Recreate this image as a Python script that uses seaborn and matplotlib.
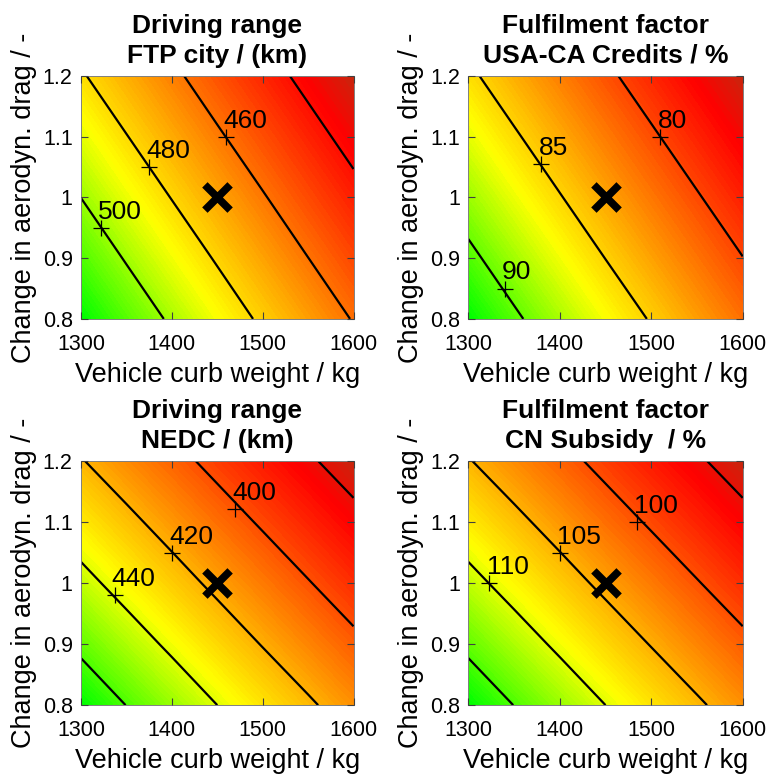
import matplotlib
matplotlib.use("Agg")
import matplotlib.pyplot as plt
from matplotlib.colors import LinearSegmentedColormap
import seaborn as sns
import numpy as np

# grid of the parameter study
curb_weight = [1300, 1350, 1400, 1450, 1500, 1550, 1600]   # kg
drag_change = [0.8, 0.9, 1.0, 1.1, 1.2]                    # -

# values, rows = drag_change, cols = curb_weight
range_ftp = [
    [520.0, 508.8, 498.1, 487.8, 477.9, 468.5, 459.3],
    [509.8, 499.0, 488.7, 478.8, 469.2, 460.1, 451.3],
    [499.9, 489.5, 479.6, 470.0, 460.9, 452.0, 443.5],
    [490.4, 480.4, 470.8, 461.6, 452.8, 444.2, 436.0],
    [481.2, 471.6, 462.4, 453.5, 444.9, 436.7, 428.8],
]
credits_usa_ca = [
    [92.42, 90.39, 88.46, 86.60, 84.83, 83.12, 81.48],
    [90.56, 88.62, 86.76, 84.97, 83.26, 81.62, 80.04],
    [88.78, 86.91, 85.12, 83.40, 81.75, 80.17, 78.64],
    [87.06, 85.27, 83.55, 81.89, 80.30, 78.77, 77.29],
    [85.42, 83.69, 82.03, 80.43, 78.90, 77.42, 75.99],
]
range_nedc = [
    [470.4, 459.8, 449.7, 440.0, 430.7, 421.9, 413.3],
    [456.9, 446.9, 437.4, 428.2, 419.4, 411.0, 402.9],
    [444.2, 434.8, 425.7, 417.0, 408.7, 400.7, 393.0],
    [432.2, 423.3, 414.7, 406.4, 398.5, 390.9, 383.6],
    [420.8, 412.3, 404.2, 396.3, 388.8, 381.6, 374.6],
]
subsidy_cn = [
    [117.60, 114.95, 112.42, 110.00, 107.68, 105.47, 103.33],
    [114.23, 111.73, 109.35, 107.05, 104.86, 102.75, 100.73],
    [111.05, 108.70, 106.43, 104.25, 102.18, 100.18, 98.25],
    [108.05, 105.83, 103.68, 101.60, 99.63, 97.73, 95.90],
    [105.20, 103.08, 101.05, 99.08, 97.20, 95.40, 93.65],
]

# contour levels drawn in each panel
levels_ftp = [440, 460, 480, 500]
levels_usa_ca = [80, 85, 90]
levels_nedc = [380, 400, 420, 440, 460]
levels_cn = [95, 100, 105, 110, 115]

# labelled contours
label_text_ftp = ["500", "480", "460"]
label_text_usa_ca = ["90", "85", "80"]
label_text_nedc = ["440", "420", "400"]
label_text_cn = ["110", "105", "100"]

# reference vehicle
ref_weight = [1450]
ref_drag = [1.0]

sns.set_style("ticks")
plt.rcParams['font.family'] = ['Liberation Sans', 'DejaVu Sans']
plt.rcParams.update({"text.color": "k", "axes.labelcolor": "k",
                     "xtick.color": "k", "ytick.color": "k"})

cmap = LinearSegmentedColormap.from_list(
    "gyr", [(0.0, (0.78, 0.15, 0.05)), (0.1, (1.0, 0.0, 0.0)),
            (0.645, (1.0, 1.0, 0.0)), (1.0, (0.0, 1.0, 0.0))])

panels = [
    dict(z=range_ftp, levels=levels_ftp, texts=label_text_ftp,
         lx=[1322, 1375, 1460], ly=[0.95, 1.05, 1.1],
         title="Driving range\nFTP city / (km)",
         rect=[0.1056, 0.588, 0.3553, 0.314]),
    dict(z=credits_usa_ca, levels=levels_usa_ca, texts=label_text_usa_ca,
         lx=[1340, 1380, 1510], ly=[0.85, 1.055, 1.1],
         title="Fulfilment factor\nUSA-CA Credits / %",
         rect=[0.6106, 0.588, 0.3577, 0.314]),
    dict(z=range_nedc, levels=levels_nedc, texts=label_text_nedc,
         lx=[1337, 1400, 1470], ly=[0.98, 1.05, 1.122],
         title="Driving range\nNEDC / (km)",
         rect=[0.1056, 0.089, 0.3553, 0.315]),
    dict(z=subsidy_cn, levels=levels_cn, texts=label_text_cn,
         lx=[1323, 1400, 1484], ly=[1.0, 1.05, 1.1],
         title="Fulfilment factor\nCN Subsidy  / %",
         rect=[0.6106, 0.089, 0.3577, 0.315]),
]

fig = plt.figure(figsize=(7.67, 7.74), dpi=100)
W, D = np.meshgrid(curb_weight, drag_change)

for p in panels:
    ax = fig.add_axes(p["rect"])
    Z = np.array(p["z"])
    cs = ax.contourf(W, D, Z, levels=np.linspace(Z.min(), Z.max(), 80),
                     cmap=cmap, zorder=0)
    cs.set_edgecolor("face")
    ax.contour(W, D, Z, levels=p["levels"], colors="k", linewidths=1.6,
               zorder=1)

    sns.scatterplot(x=p["lx"], y=p["ly"], marker="+", s=140, color="k",
                    linewidth=0.9, ax=ax, zorder=5)
    for x, y, t in zip(p["lx"], p["ly"], p["texts"]):
        ax.annotate(t, (x, y), xytext=(-2, 6.5), textcoords="offset points",
                    fontsize=19, ha="left", va="baseline", zorder=6)
    sns.scatterplot(x=ref_weight, y=ref_drag, marker="x", s=330, color="k",
                    linewidth=5.5, ax=ax, zorder=7)

    ax.set_xlim(1300, 1600)
    ax.set_ylim(0.8, 1.2)
    ax.set_xticks([1300, 1400, 1500, 1600])
    ax.set_yticks([0.8, 0.9, 1.0, 1.1, 1.2])
    ax.set_yticklabels(["0.8", "0.9", "1", "1.1", "1.2"])
    ax.set_axisbelow(False)
    ax.tick_params(direction="in", top=True, right=True, length=5, width=0.8,
                   color="0.25", labelcolor="k", labelsize=15.5)
    ax.tick_params(axis="x", pad=11)
    ax.tick_params(axis="y", pad=6)
    for s in ax.spines.values():
        s.set_color("0.5")
        s.set_linewidth(0.7)
    ax.set_xlabel("Vehicle curb weight / kg", fontsize=19.5, labelpad=5)
    ax.set_ylabel("Change in aerodyn. drag / -", fontsize=19.5, labelpad=4)
    ax.set_title(p["title"], fontsize=19, fontweight="bold", pad=9.5,
                 linespacing=1.3)

fig.savefig("out.png", dpi=100)
